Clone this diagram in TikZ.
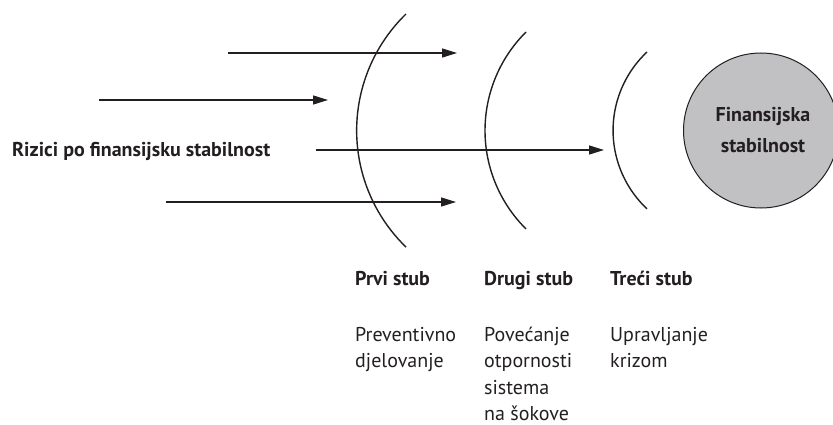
\documentclass[tikz,border=0pt]{standalone}
\usepackage{fontspec}
\setmainfont{PT Sans}
\usetikzlibrary{arrows.meta}
\definecolor{ink}{HTML}{231F20}
\definecolor{discfill}{HTML}{C1C1C3}
\newcommand{\linesL}[1]{\vtop{\baselineskip=26.5pt\lineskiplimit=-20pt #1}}
\tikzset{
  flow/.style={line width=1.4pt, draw=ink, -{Triangle[length=15pt,width=9pt]}},
  pillar/.style={line width=1.4pt, draw=ink},
  lbl/.style={inner sep=0pt, text=ink, font=\fontsize{20}{26.5}\selectfont, anchor=base west},
  head/.style={lbl, font=\fontsize{20}{27}\selectfont\bfseries},
}
\begin{document}
\begin{tikzpicture}[x=1pt,y=1pt]
\useasboundingbox (0,0) rectangle (833,424);
% pillars (arcs)
\draw[pillar] (406,410) arc[start angle=134.1, end angle=225.9, radius=162.3];
\draw[pillar] (526,392) arc[start angle=134.8, end angle=225.2, radius=138.8];
\draw[pillar] (647,372) arc[start angle=133.2, end angle=226.8, radius=107.6];
% goal disc
\node[circle, draw=ink, line width=1pt, fill=discfill, minimum size=155pt, inner sep=0pt] (goal) at (761,293.5) {};
\node[head, anchor=base, font=\fontsize{20}{31}\selectfont\bfseries] (goaltxt) at (763,302)
  {\begin{tabular}[t]{@{}c@{}}Finansijska\\stabilnost\end{tabular}};
% risks label
\node[head] (risks) at (12,268) {Rizici po finansijsku stabilnost};
% arrows
\coordinate (a1s) at (228,371); \coordinate (a1e) at (457,371);
\coordinate (a2s) at (99,324);  \coordinate (a2e) at (328,324);
\coordinate (a3s) at (316,274); \coordinate (a3e) at (604,274);
\coordinate (a4s) at (166,222); \coordinate (a4e) at (456,222);
\draw[flow] (a1s) -- (a1e);
\draw[flow] (a2s) -- (a2e);
\draw[flow] (a3s) -- (a3e);
\draw[flow] (a4s) -- (a4e);
% pillar labels
\node[head] (h1) at (355,139) {Prvi stub};
\node[head] (h2) at (484,139) {Drugi stub};
\node[head] (h3) at (610,139) {Treći stub};
\node[lbl] (d1) at (355,83) {\linesL{\hbox{Preventivno}\hbox{djelovanje}}};
\node[lbl] (d2) at (484,83) {\linesL{\hbox{Povećanje}\hbox{otpornosti}\hbox{sistema}\hbox{na šokove}}};
\node[lbl] (d3) at (610,83) {\linesL{\hbox{Upravljanje}\hbox{krizom}}};
\end{tikzpicture}
\end{document}
